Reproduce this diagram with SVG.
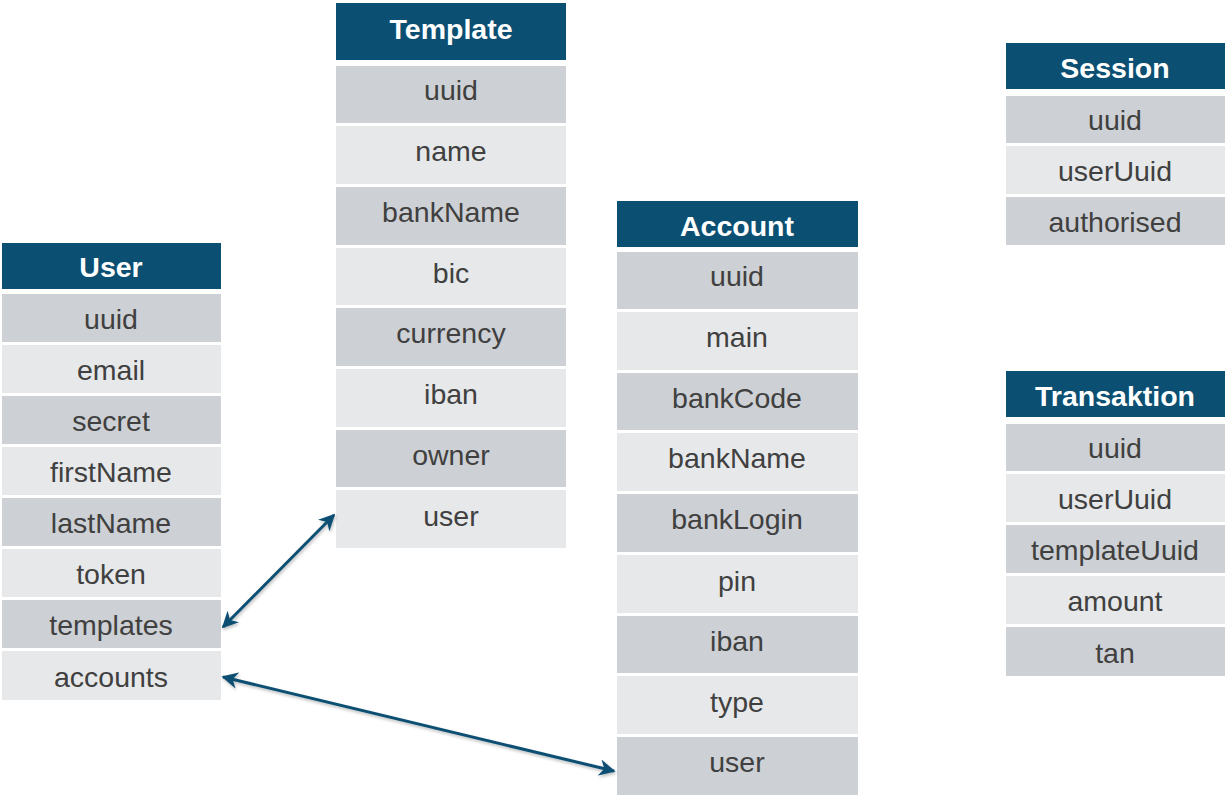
<svg xmlns="http://www.w3.org/2000/svg" width="1230" height="800" viewBox="0 0 1230 800">
<style>
.h{fill:#0b4f72}
.d{fill:#cdd0d4}
.l{fill:#e7e8ea}
.ht{font-family:"Liberation Sans",Arial,sans-serif;font-size:28.5px;font-weight:bold;fill:#ffffff;text-anchor:middle}
.t{font-family:"Liberation Sans",Arial,sans-serif;font-size:28.5px;fill:#404040;text-anchor:middle}
.c{stroke:#0b4f72;stroke-width:3;fill:none;marker-start:url(#a);marker-end:url(#a)}
</style>
<defs>
<marker id="a" viewBox="0 0 10 10" refX="9" refY="5" markerWidth="5.5" markerHeight="5.5" orient="auto-start-reverse" markerUnits="strokeWidth">
<path d="M0,0 L10,5 L0,10 L3,5 z" fill="#0b4f72"/>
</marker>
<filter id="s" x="-10%" y="-10%" width="120%" height="130%">
<feDropShadow dx="1" dy="2" stdDeviation="1.5" flood-color="#000" flood-opacity="0.25"/>
</filter>
</defs>
<rect width="1230" height="800" fill="#ffffff"/>

<g id="user">
<rect class="h" x="2" y="243" width="219" height="46"/>
<text class="ht" x="111" y="277">User</text>
<rect class="d" x="2" y="294" width="219" height="48"/><text class="t" x="111" y="329">uuid</text>
<rect class="l" x="2" y="345" width="219" height="48"/><text class="t" x="111" y="380">email</text>
<rect class="d" x="2" y="396" width="219" height="48"/><text class="t" x="111" y="431">secret</text>
<rect class="l" x="2" y="447" width="219" height="48"/><text class="t" x="111" y="482">firstName</text>
<rect class="d" x="2" y="498" width="219" height="48"/><text class="t" x="111" y="533">lastName</text>
<rect class="l" x="2" y="549" width="219" height="48"/><text class="t" x="111" y="584">token</text>
<rect class="d" x="2" y="600" width="219" height="48"/><text class="t" x="111" y="635">templates</text>
<rect class="l" x="2" y="651" width="219" height="49"/><text class="t" x="111" y="687">accounts</text>
</g>

<g id="template">
<rect class="h" x="336" y="3" width="230" height="57"/>
<text class="ht" x="451" y="39">Template</text>
<rect class="d" x="336" y="66" width="230" height="57"/><text class="t" x="451" y="100">uuid</text>
<rect class="l" x="336" y="126" width="230" height="58"/><text class="t" x="451" y="161">name</text>
<rect class="d" x="336" y="187" width="230" height="58"/><text class="t" x="451" y="222">bankName</text>
<rect class="l" x="336" y="248" width="230" height="57"/><text class="t" x="451" y="283">bic</text>
<rect class="d" x="336" y="308" width="230" height="58"/><text class="t" x="451" y="343">currency</text>
<rect class="l" x="336" y="369" width="230" height="58"/><text class="t" x="451" y="404">iban</text>
<rect class="d" x="336" y="430" width="230" height="57"/><text class="t" x="451" y="465">owner</text>
<rect class="l" x="336" y="490" width="230" height="58"/><text class="t" x="451" y="526">user</text>
</g>

<g id="account">
<rect class="h" x="617" y="201" width="241" height="46"/>
<text class="ht" x="737" y="236">Account</text>
<rect class="d" x="617" y="252" width="241" height="57"/><text class="t" x="737" y="286">uuid</text>
<rect class="l" x="617" y="312" width="241" height="58"/><text class="t" x="737" y="347">main</text>
<rect class="d" x="617" y="373" width="241" height="57"/><text class="t" x="737" y="408">bankCode</text>
<rect class="l" x="617" y="433" width="241" height="58"/><text class="t" x="737" y="468">bankName</text>
<rect class="d" x="617" y="494" width="241" height="58"/><text class="t" x="737" y="529">bankLogin</text>
<rect class="l" x="617" y="555" width="241" height="58"/><text class="t" x="737" y="591">pin</text>
<rect class="d" x="617" y="616" width="241" height="57"/><text class="t" x="737" y="651">iban</text>
<rect class="l" x="617" y="676" width="241" height="58"/><text class="t" x="737" y="712">type</text>
<rect class="d" x="617" y="737" width="241" height="58"/><text class="t" x="737" y="772">user</text>
</g>

<g id="session">
<rect class="h" x="1006" y="43" width="219" height="46"/>
<text class="ht" x="1115" y="78">Session</text>
<rect class="d" x="1006" y="96" width="219" height="47"/><text class="t" x="1115" y="130">uuid</text>
<rect class="l" x="1006" y="146" width="219" height="48"/><text class="t" x="1115" y="181">userUuid</text>
<rect class="d" x="1006" y="197" width="219" height="48"/><text class="t" x="1115" y="232">authorised</text>
</g>

<g id="transaktion">
<rect class="h" x="1006" y="371" width="219" height="46"/>
<text class="ht" x="1115" y="406">Transaktion</text>
<rect class="d" x="1006" y="424" width="219" height="47"/><text class="t" x="1115" y="458">uuid</text>
<rect class="l" x="1006" y="474" width="219" height="48"/><text class="t" x="1115" y="509">userUuid</text>
<rect class="d" x="1006" y="525" width="219" height="48"/><text class="t" x="1115" y="560">templateUuid</text>
<rect class="l" x="1006" y="576" width="219" height="48"/><text class="t" x="1115" y="611">amount</text>
<rect class="d" x="1006" y="627" width="219" height="49"/><text class="t" x="1115" y="663">tan</text>
</g>

<g id="connectors" filter="url(#s)">
<line class="c" x1="223" y1="627" x2="334" y2="515"/>
<line class="c" x1="223" y1="677" x2="614" y2="771"/>
</g>
</svg>
